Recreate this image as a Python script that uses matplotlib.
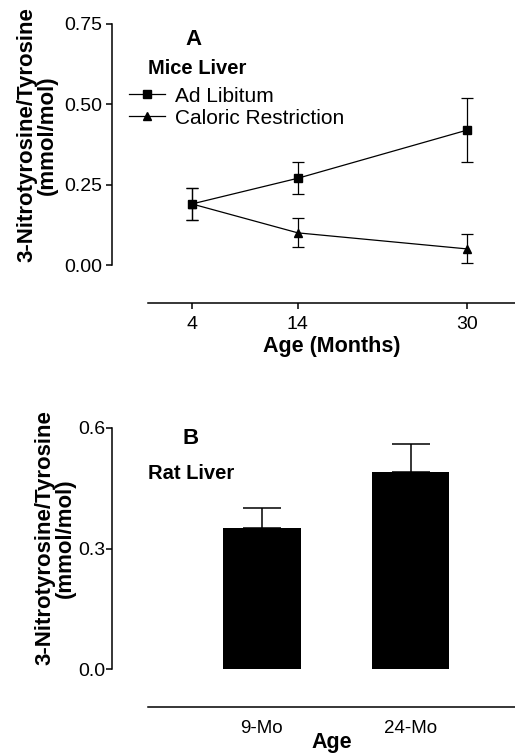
import matplotlib.pyplot as plt
from matplotlib.lines import Line2D
import numpy as np

plt.rcParams['font.family'] = ['Liberation Sans', 'DejaVu Sans']

# panel A data: mice liver
meses = [4, 14, 30]
ad_lib = [0.19, 0.27, 0.42]
ad_lib_err = [0.05, 0.05, 0.10]
cr = [0.19, 0.10, 0.05]
cr_err = [0.05, 0.045, 0.045]

# panel B data: rat liver
edades = ['9-Mo', '24-Mo']
rata = [0.35, 0.49]
rata_err = [0.05, 0.07]

W, H = 515, 755
fig = plt.figure(figsize=(W / 100, H / 100), dpi=100)

def caja(left, top, right, bottom):
    return [left / W, 1 - bottom / H, (right - left) / W, (bottom - top) / H]

# ---- panel A ----
ax1 = fig.add_axes(caja(148, 24, 515, 265))
ax1.errorbar(meses, ad_lib, yerr=ad_lib_err, color='black', lw=0.9, marker='s',
             ms=6, capsize=4, elinewidth=0.9, capthick=0.9)
ax1.errorbar(meses, cr, yerr=cr_err, color='black', lw=0.9, marker='^',
             ms=5.5, capsize=4, elinewidth=0.9, capthick=0.9)
ax1.set_xlim(-0.15, 34.5)
ax1.set_ylim(0, 0.75)
ax1.set_yticks([0, 0.25, 0.5, 0.75])
ax1.set_yticklabels(['0.00', '0.25', '0.50', '0.75'])
ax1.set_xticks(meses)
ax1.spines['top'].set_visible(False)
ax1.spines['right'].set_visible(False)
ax1.spines['left'].set_position(('outward', 26))
ax1.spines['bottom'].set_position(('outward', 27))
for s in ['left', 'bottom']:
    ax1.spines[s].set_linewidth(1.1)
ax1.tick_params(labelsize=14, width=1.1, length=4, pad=3)
ax1.tick_params(axis='x', pad=6)
ax1.set_xlabel('Age (Months)', fontsize=15.5, fontweight='bold')
ax1.xaxis.set_label_coords(0.5, -0.295)
ax1.text(0.125, 0.935, 'A', transform=ax1.transAxes, fontsize=16,
         fontweight='bold', ha='center', va='center')
ax1.text(0.0, 0.815, 'Mice Liver', transform=ax1.transAxes, fontsize=14.5,
         fontweight='bold', ha='left', va='center')
manijas = [Line2D([], [], color='black', lw=0.9, marker='s', ms=6),
           Line2D([], [], color='black', lw=0.9, marker='^', ms=5.5)]
ax1.legend(manijas, ['Ad Libitum', 'Caloric Restriction'], loc='upper left',
           bbox_to_anchor=(-0.052, 0.74), frameon=False,
           fontsize=15, handlelength=1.75, handletextpad=0.45,
           labelspacing=0.15, borderpad=0, borderaxespad=0)

fig.text(37 / W, 1 - 135 / H, '3-Nitrotyrosine/Tyrosine\n(mmol/mol)',
         rotation=90, ha='center', va='center', fontsize=16,
         fontweight='bold', linespacing=1.0)

# ---- panel B ----
ax2 = fig.add_axes(caja(148, 428, 515, 669))
x = np.arange(len(edades))
ax2.bar(x, rata, width=0.52, color='black')
ax2.errorbar(x, rata, yerr=[[0] * len(rata), rata_err], fmt='none',
             ecolor='black', elinewidth=1.1, capsize=13.5, capthick=1.1)
ax2.set_xlim(-0.765, 1.70)
ax2.set_ylim(0, 0.6)
ax2.set_yticks([0, 0.3, 0.6])
ax2.set_yticklabels(['0.0', '0.3', '0.6'])
ax2.set_xticks(x)
ax2.set_xticklabels(edades)
ax2.spines['top'].set_visible(False)
ax2.spines['right'].set_visible(False)
ax2.spines['left'].set_position(('outward', 26))
ax2.spines['bottom'].set_position(('outward', 27))
for s in ['left', 'bottom']:
    ax2.spines[s].set_linewidth(1.1)
ax2.tick_params(axis='y', labelsize=14, width=1.1, length=4, pad=1)
ax2.tick_params(axis='x', labelsize=13.5, length=0, pad=10)
ax2.set_xlabel('Age', fontsize=15.5, fontweight='bold')
ax2.xaxis.set_label_coords(0.5, -0.26)
ax2.text(0.115, 0.955, 'B', transform=ax2.transAxes, fontsize=16,
         fontweight='bold', ha='center', va='center')
ax2.text(0.0, 0.81, 'Rat Liver', transform=ax2.transAxes, fontsize=14.5,
         fontweight='bold', ha='left', va='center')

fig.text(55 / W, 1 - 538 / H, '3-Nitrotyrosine/Tyrosine\n(mmol/mol)',
         rotation=90, ha='center', va='center', fontsize=16,
         fontweight='bold', linespacing=1.0)

fig.savefig('out.png', dpi=100)
